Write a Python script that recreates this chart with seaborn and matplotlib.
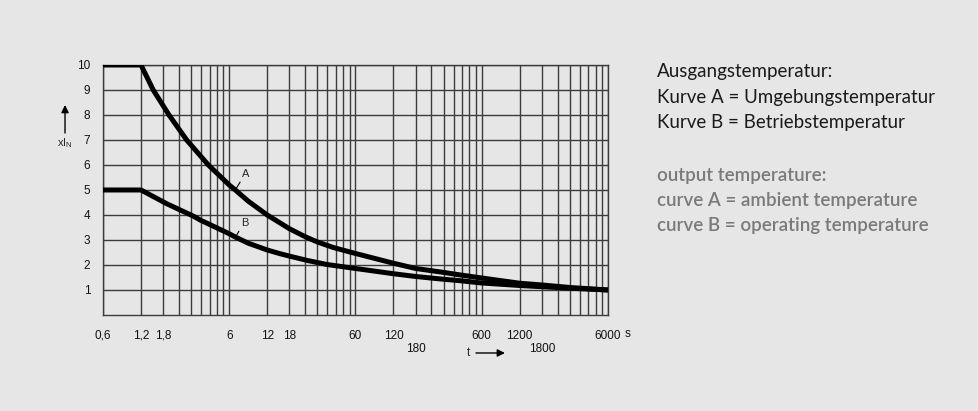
import numpy as np
import pandas as pd
import seaborn as sns
import matplotlib.pyplot as plt
from matplotlib.ticker import FixedLocator, FixedFormatter

# curve A: starting temperature = ambient temperature
t_a = [0.6, 1.2, 1.5, 2.0, 2.76, 4.1, 6, 6.7, 8.5, 12, 18, 24, 30,
       40, 60, 120, 180, 284, 408, 600, 1200, 1800, 3000, 6000]
xin_a = [10, 10, 9, 8, 7, 6, 5.2, 5, 4.55, 4.0, 3.45, 3.13, 2.92,
         2.7, 2.46, 2.07, 1.86, 1.72, 1.6, 1.48, 1.27, 1.2, 1.1, 1.0]

# curve B: starting temperature = operating temperature
t_b = [0.6, 1.2, 1.92, 3.13, 3.53, 6, 6.7, 8.5, 12, 15.2, 18.5, 25, 35.6, 60, 120, 180,
       284, 408, 600, 1200, 1800, 3000, 6000]
xin_b = [5, 5, 4.45, 3.95, 3.8, 3.25, 3.12, 2.87, 2.6, 2.45, 2.34, 2.18, 2.02, 1.86, 1.65, 1.54,
         1.44, 1.37, 1.28, 1.18, 1.13, 1.07, 1.0]

# grid positions on the time axis and which of them carry a label
grid_t = [0.6 * k * 10 ** d for d in range(4) for k in range(1, 10)] + [6000]
x_ticks = [0.6, 1.2, 1.8, 6, 12, 18, 60, 120, 600, 1200, 6000]
x_tick_labels = ["0,6", "1,2", "1,8", "6", "12", "18", "60", "120", "600", "1200", "6000"]
low_ticks = [180, 1800]
low_tick_labels = ["180", "1800"]
y_ticks = list(range(1, 11))

text_de = ["Ausgangstemperatur:",
           "Kurve A = Umgebungstemperatur",
           "Kurve B = Betriebstemperatur"]
text_en = ["output temperature:",
           "curve A = ambient temperature",
           "curve B = operating temperature"]

BG = "#e6e6e6"
GRID = "#3c3c3c"

sns.set_style("white", rc={"axes.facecolor": BG, "figure.facecolor": BG})
plt.rcParams["font.family"] = ["Liberation Sans", "DejaVu Sans"]

df = pd.concat([
    pd.DataFrame({"t": t_a, "xIN": xin_a, "curve": "A"}),
    pd.DataFrame({"t": t_b, "xIN": xin_b, "curve": "B"}),
])

fig = plt.figure(figsize=(9.79, 4.11), dpi=100)
ax = fig.add_axes([0.1052, 0.2336, 0.5158, 0.6083])

sns.lineplot(data=df, x="t", y="xIN", hue="curve", palette={"A": "black", "B": "black"},
             estimator=None, sort=False, legend=False, lw=3.6, ax=ax, zorder=3)
for line in ax.get_lines():
    line.set_solid_capstyle("butt")
    line.set_solid_joinstyle("round")

ax.set_xscale("log")
ax.set_xlim(0.6, 6000)
ax.set_ylim(0, 10)
ax.set_xlabel("")
ax.set_ylabel("")

# major ticks: every grid line except 180/1800, only the labelled ones get a tick mark
low_keys = [round(v, 3) for v in low_ticks]
major_t = [v for v in grid_t if round(v, 3) not in low_keys]
lab_map = {round(v, 3): s for v, s in zip(x_ticks, x_tick_labels)}
major_labels = [lab_map.get(round(v, 3), "") for v in major_t]
ax.xaxis.set_major_locator(FixedLocator(major_t))
ax.xaxis.set_major_formatter(FixedFormatter(major_labels))
# minor ticks: the two labels on the lower row, with longer ticks
ax.xaxis.set_minor_locator(FixedLocator(low_ticks))
ax.xaxis.set_minor_formatter(FixedFormatter(low_tick_labels))
ax.set_yticks(y_ticks)

ax.tick_params(axis="x", which="major", direction="out", width=1.0, color=GRID,
               length=6.5, pad=4.3, labelsize=8.5, labelcolor="#111111")
ax.tick_params(axis="x", which="minor", direction="out", width=1.0, color=GRID,
               length=16.5, pad=3.4, labelsize=8.5, labelcolor="#111111")
ax.tick_params(axis="y", which="major", direction="out", width=1.0, color=GRID,
               length=7.2, pad=2, labelsize=8.5, labelcolor="#111111")
ax.tick_params(axis="y", which="minor", length=0)

ax.set_axisbelow(True)
ax.grid(True, which="both", axis="x", color=GRID, lw=1.0)
ax.grid(True, which="major", axis="y", color=GRID, lw=1.0)
for sp in ax.spines.values():
    sp.set_visible(True)
    sp.set_color(GRID)
    sp.set_linewidth(1.0)

for v, tick in zip(major_t, ax.xaxis.get_major_ticks()):
    if round(v, 3) not in lab_map:
        tick.tick1line.set_markersize(0)

# unit after the last time label
ax.text(1.0396, -0.076, "s", transform=ax.transAxes, ha="center", va="center",
        fontsize=8.5, color="#111111")

# curve labels with leader lines
lead = dict(arrowstyle="-", lw=0.8, color="black", shrinkA=0, shrinkB=0, relpos=(0.1, 0.1))
ax.annotate("A", xy=(6.7, 5.0), xytext=(8.1, 5.65), ha="center", va="center",
            fontsize=8, arrowprops=lead)
ax.annotate("B", xy=(6.7, 3.1), xytext=(7.9, 3.68), ha="center", va="center",
            fontsize=8, arrowprops=lead)

# axis names with arrows
arrow = dict(arrowstyle="-|>", color="black", lw=1.0, mutation_scale=11,
             shrinkA=0, shrinkB=0)
ax.annotate("", xy=(-0.0752, 0.84), xytext=(-0.0752, 0.728),
            xycoords="axes fraction", arrowprops=arrow)
ax.text(-0.0752, 0.688, r"x$\mathregular{I_N}$", transform=ax.transAxes,
        ha="center", va="center", fontsize=8)
ax.text(0.7228, -0.152, "t", transform=ax.transAxes, ha="center", va="center",
        fontsize=8.5)
ax.annotate("", xy=(0.796, -0.152), xytext=(0.7386, -0.152),
            xycoords="axes fraction", arrowprops=arrow)

# description on the right
base_de = [77.3, 103.3, 128.3]
base_en = [180.7, 205.7, 230.7]
for s, py in zip(text_de, base_de):
    fig.text(657 / 979, 1 - py / 411, s, ha="left", va="baseline",
             fontsize=13.5, family=["Lato", "DejaVu Sans"], color="#1a1a1a")
for s, py in zip(text_en, base_en):
    fig.text(657 / 979, 1 - py / 411, s, ha="left", va="baseline",
             fontsize=13.5, family=["Lato", "DejaVu Sans"], color="#7a7a7a",
             fontweight="semibold")

fig.savefig("out.png", dpi=100, facecolor=BG)
